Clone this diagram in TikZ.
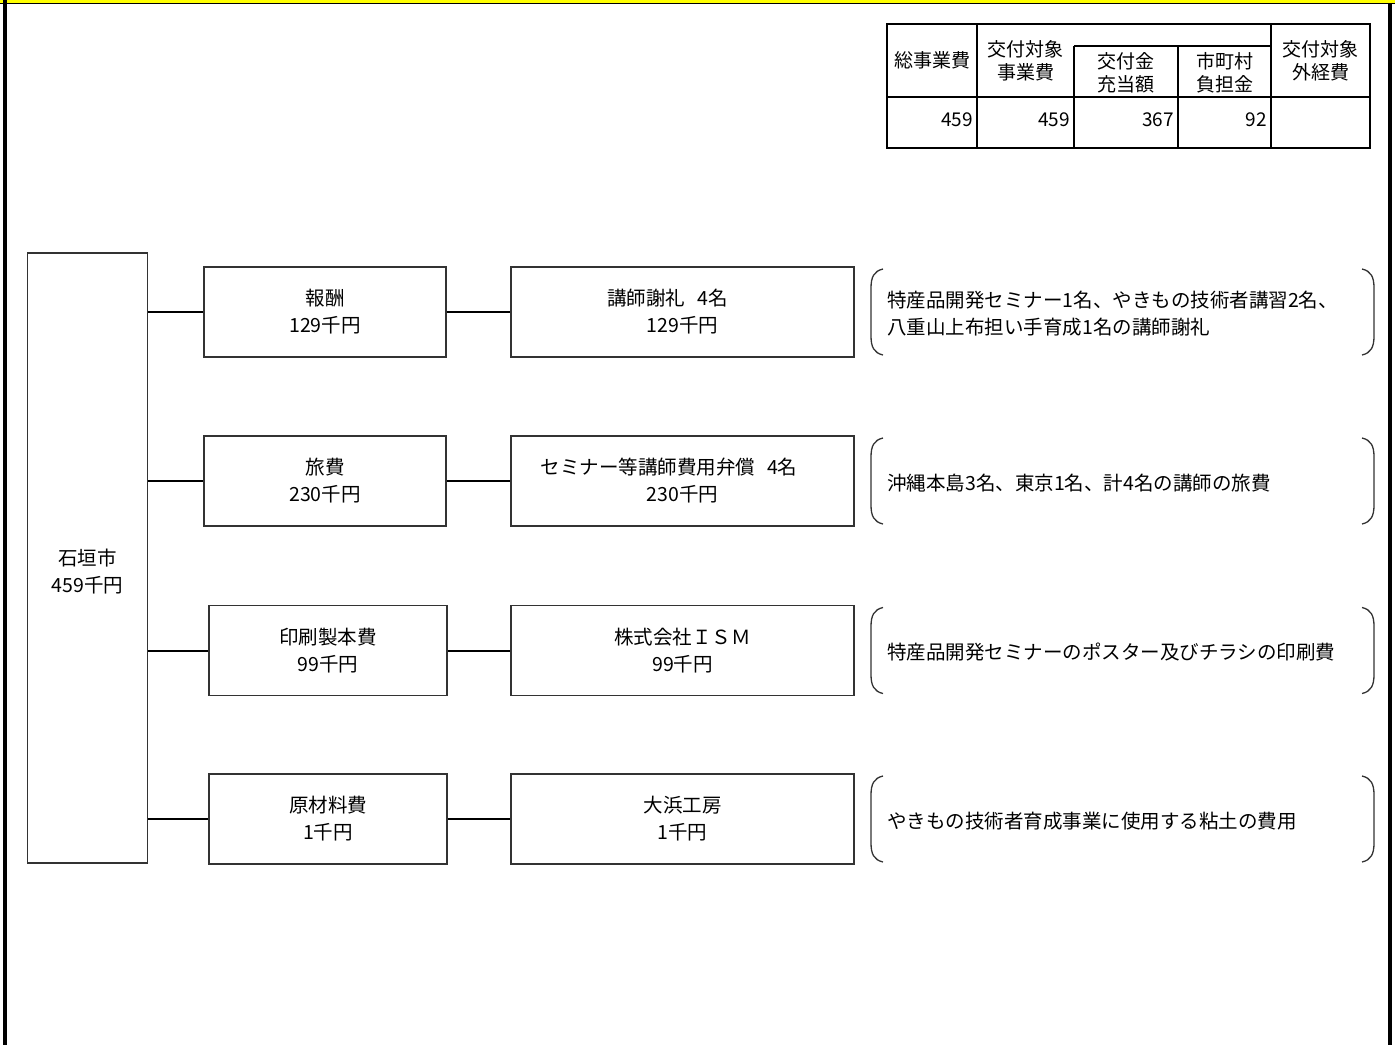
\documentclass[tikz,border=0pt]{standalone}
\usepackage{fontspec}
\setmainfont{Noto Sans CJK JP}
\definecolor{edge}{HTML}{333333}
\definecolor{band}{HTML}{FFFF00}
\begin{document}
\begin{tikzpicture}[x=1pt,y=-1pt,
  bx/.style={draw=edge, line width=1.3pt, minimum height=90pt, inner sep=0pt, align=center, font=\fontsize{19.5pt}{27pt}\selectfont},
  txt/.style={inner sep=0pt, align=center, font=\fontsize{19.5pt}{27pt}\selectfont},
  btxt/.style={inner sep=0pt, align=left, anchor=west, font=\fontsize{19.5pt}{27pt}\selectfont},
  ttxt/.style={inner sep=0pt, align=center, font=\fontsize{19pt}{23pt}\selectfont},
  conn/.style={draw=black, line width=2pt},
  brk/.style={draw=edge, line width=1.3pt},
  tbl/.style={draw=black, line width=1.6pt}]
\useasboundingbox (0,0) rectangle (1395,1045);
% frame
\fill[band] (0,0) rectangle (1395,2.7);
\fill[black] (0,2.7) rectangle (1395,4);
\fill[black] (3,0) rectangle (7,1045);
\fill[black] (1388,2.7) rectangle (1392,1045);
% table
\draw[tbl] (887,24) rectangle (1370,148);
\draw[tbl] (887,97) -- (1370,97);
\draw[tbl] (977,24) -- (977,148);
\draw[tbl] (1271,24) -- (1271,148);
\draw[tbl] (1074,46) -- (1074,148);
\draw[tbl] (1178,46) -- (1178,148);
\draw[tbl] (1074,46) -- (1271,46);
\node[ttxt] (h1) at (932,60) {総事業費};
\node[ttxt] (h2) at (1025.5,61) {交付対象\\事業費};
\node[ttxt] (h3) at (1126,73) {交付金\\充当額};
\node[ttxt] (h4) at (1224.5,73) {市町村\\負担金};
\node[ttxt] (h5) at (1320.5,61) {交付対象\\外経費};
\node[ttxt, anchor=east] (v1) at (973,120) {459};
\node[ttxt, anchor=east] (v2) at (1070,120) {459};
\node[ttxt, anchor=east] (v3) at (1174,120) {367};
\node[ttxt, anchor=east] (v4) at (1267,120) {92};
% city box
\node[bx, minimum width=120pt, minimum height=610pt] (city) at (87.5,558) {};
\node[txt] (citytext) at (87.5,572) {石垣市\\459千円};
% level 1
\node[bx, minimum width=242pt] (e1) at (325,312) {報酬\\129千円};
\node[bx, minimum width=242pt] (e2) at (325,481) {旅費\\230千円};
\node[bx, minimum width=238pt] (e3) at (328,650.5) {印刷製本費\\99千円};
\node[bx, minimum width=238pt] (e4) at (328,819) {原材料費\\1千円};
% level 2
\node[bx, minimum width=343pt] (p1) at (682.5,312) {講師謝礼\hspace{12pt}4名\hspace*{30pt}\\129千円};
\node[bx, minimum width=343pt] (p2) at (682.5,481) {セミナー等講師費用弁償\hspace{12pt}4名\hspace*{27pt}\\230千円};
\node[bx, minimum width=343pt] (p3) at (682.5,650.5) {株式会社ＩＳＭ\\99千円};
\node[bx, minimum width=343pt] (p4) at (682.5,819) {大浜工房\\1千円};
% connectors
\foreach \i in {1,2,3,4}{
  \draw[conn] (city.east |- e\i) -- (e\i.west);
  \draw[conn] (e\i.east) -- (p\i.west);
}
% brackets
\foreach \c in {312,481,650.5,819}{
  \draw[brk] (883,\c-43) .. controls (874,\c-41) and (871,\c-35) .. (871,\c-24) -- (871,\c+24) .. controls (871,\c+35) and (874,\c+41) .. (883,\c+43);
  \draw[brk] (1362,\c-43) .. controls (1371,\c-41) and (1374,\c-35) .. (1374,\c-24) -- (1374,\c+24) .. controls (1374,\c+35) and (1371,\c+41) .. (1362,\c+43);
}
\node[btxt] (d1) at (887,314) {特産品開発セミナー1名、やきもの技術者講習2名、\\八重山上布担い手育成1名の講師謝礼};
\node[btxt] (d2) at (887,483) {沖縄本島3名、東京1名、計4名の講師の旅費};
\node[btxt] (d3) at (887,652) {特産品開発セミナーのポスター及びチラシの印刷費};
\node[btxt] (d4) at (887,821) {やきもの技術者育成事業に使用する粘土の費用};
\end{tikzpicture}
\end{document}
